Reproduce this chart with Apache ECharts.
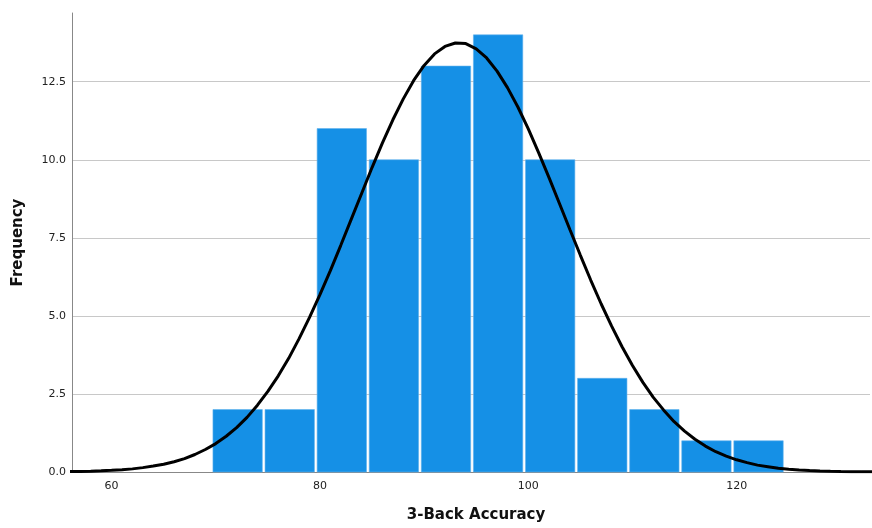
<!DOCTYPE html>
<html>
<head>
<meta charset="utf-8">
<script src="https://cdn.jsdelivr.net/npm/echarts@6/dist/echarts.min.js"></script>
<style>
html,body{margin:0;padding:0;background:#fff;}
#chart{width:872px;height:528px;}
</style>
</head>
<body>
<div id="chart"></div>
<script>
// Histogram bins (start of each 5-unit bin) and counts
var binStarts = [69.6, 74.6, 79.6, 84.6, 89.6, 94.6, 99.6, 104.6, 109.6, 114.6, 119.6];
var binWidth = 5;
var counts = [2, 2, 11, 10, 13, 14, 10, 3, 2, 1, 1];

// Normal curve (x step 1)
var curveX = [56, 57, 58, 59, 60, 61, 62, 63, 64, 65, 66, 67, 68, 69, 70, 71, 72, 73, 74, 75, 76, 77, 78, 79, 80, 81, 82, 83, 84, 85, 86, 87, 88, 89, 90, 91, 92, 93, 94, 95, 96, 97, 98, 99, 100, 101, 102, 103, 104, 105, 106, 107, 108, 109, 110, 111, 112, 113, 114, 115, 116, 117, 118, 119, 120, 121, 122, 123, 124, 125, 126, 127, 128, 129, 130, 131, 132, 133];
var curveY = [0.013, 0.019, 0.027, 0.038, 0.054, 0.075, 0.10, 0.14, 0.19, 0.25, 0.33, 0.43, 0.56, 0.72, 0.91, 1.145, 1.42, 1.75, 2.14, 2.58, 3.08, 3.64, 4.27, 4.95, 5.68, 6.45, 7.26, 8.09, 8.92, 9.75, 10.54, 11.28, 11.95, 12.54, 13.02, 13.39, 13.63, 13.74, 13.72, 13.55, 13.26, 12.84, 12.31, 11.69, 10.99, 10.22, 9.42, 8.59, 7.76, 6.94, 6.14, 5.38, 4.67, 4.01, 3.41, 2.87, 2.39, 1.98, 1.61, 1.31, 1.05, 0.83, 0.65, 0.51, 0.39, 0.30, 0.22, 0.17, 0.12, 0.09, 0.066, 0.047, 0.033, 0.024, 0.016, 0.011, 0.008, 0.005];

var xTickLabels = [60, 80, 100, 120];

var barData = binStarts.map(function (s, i) { return [s, s + binWidth, counts[i]]; });
var lineData = curveX.map(function (x, i) { return [x, curveY[i]]; });

var chart = echarts.init(document.getElementById('chart'), null, {renderer: 'canvas'});
var labelFont = 'DejaVu Sans, sans-serif';
chart.setOption({
  animation: false,
  backgroundColor: '#ffffff',
  grid: {left: 72, right: 2, top: 13, bottom: 56},
  xAxis: {
    type: 'value',
    min: 56.2,
    max: 132.8,
    name: '3-Back Accuracy',
    nameLocation: 'middle',
    nameGap: 36,
    nameTextStyle: {fontFamily: labelFont, fontWeight: 'bold', fontSize: 15, color: '#111', padding: [0, 0, 0, 10]},
    axisLine: {show: true, lineStyle: {color: '#888', width: 1}},
    axisTick: {show: false},
    splitLine: {show: false},
    axisLabel: {
      customValues: xTickLabels,
      fontFamily: labelFont, fontSize: 11, color: '#222', margin: 9
    }
  },
  yAxis: {
    type: 'value',
    min: 0,
    max: 14.7,
    interval: 2.5,
    name: 'Frequency',
    nameLocation: 'middle',
    nameRotate: 90,
    nameGap: 46,
    nameTextStyle: {fontFamily: labelFont, fontWeight: 'bold', fontSize: 15, color: '#111'},
    axisLine: {show: true, lineStyle: {color: '#888', width: 1}},
    axisTick: {show: false},
    splitLine: {show: true, showMaxLine: false, lineStyle: {color: '#c8c8c8', width: 1}},
    axisLabel: {
      showMaxLabel: false,
      formatter: function (v) { return v.toFixed(1); },
      fontFamily: labelFont, fontSize: 11, color: '#222', margin: 6
    }
  },
  series: [
    {
      type: 'custom',
      data: barData,
      encode: {x: [0, 1], y: 2},
      renderItem: function (params, api) {
        var p0 = api.coord([api.value(0), api.value(2)]);
        var p1 = api.coord([api.value(1), 0]);
        var gap = 2.7;
        return {
          type: 'rect',
          shape: {x: p0[0] + gap / 2, y: p0[1], width: p1[0] - p0[0] - gap, height: p1[1] - p0[1]},
          style: {fill: '#1590e6', stroke: '#62b1ec', lineWidth: 0.6}
        };
      },
      z: 2
    },
    {
      type: 'line',
      data: lineData,
      smooth: false,
      showSymbol: false,
      lineStyle: {color: '#000', width: 3},
      z: 3
    }
  ]
});
</script>
</body>
</html>
